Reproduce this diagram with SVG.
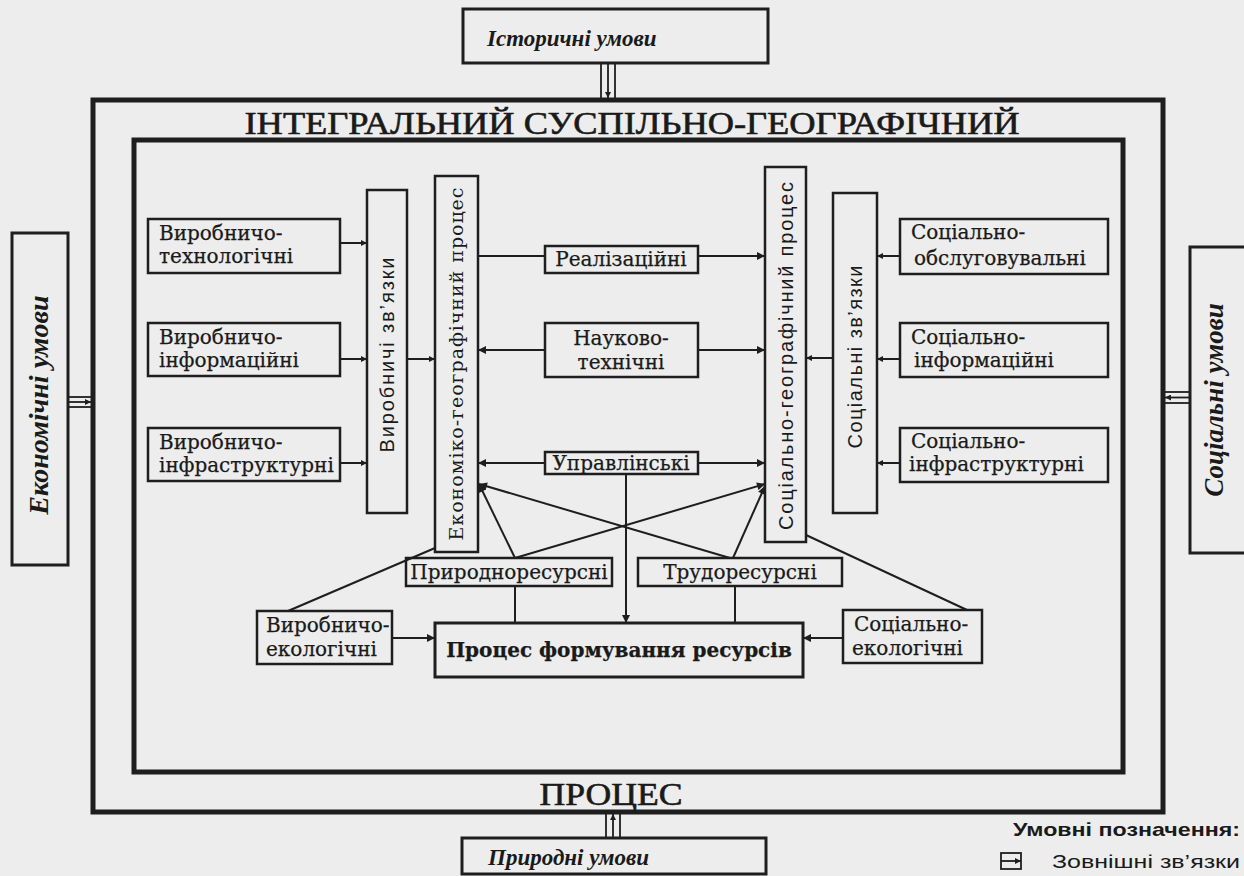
<svg xmlns="http://www.w3.org/2000/svg" width="1244" height="876" viewBox="0 0 1244 876">
<defs>
<style>
.bg{fill:#ededed}
.box{fill:none;stroke:#1e1e1e;stroke-width:2.5}
.tbox{fill:none;stroke:#1e1e1e;stroke-width:3}
.frame{fill:none;stroke:#1e1e1e;stroke-width:5}
.ln{fill:none;stroke:#1e1e1e;stroke-width:2}
.dl{fill:none;stroke:#1e1e1e;stroke-width:1.8}
.t{font-family:"DejaVu Serif","Liberation Serif",serif;font-size:20px;fill:#1a1a1a;stroke:#1a1a1a;stroke-width:0.25}
.tc{text-anchor:middle}
.tb{font-weight:bold}
.vs{font-family:"Liberation Sans","DejaVu Sans",sans-serif;font-size:20px;fill:#1a1a1a;text-anchor:middle}
.vse{font-family:"DejaVu Serif","Liberation Serif",serif;font-size:19px;fill:#1a1a1a;text-anchor:middle}
.cond{font-family:"Liberation Serif",serif;fill:#1a1a1a;stroke:#1a1a1a;stroke-width:0.6;text-anchor:middle}
.ext{font-family:"Liberation Serif",serif;font-weight:bold;font-style:italic;fill:#1a1a1a}
.leg{font-family:"Liberation Sans",sans-serif;fill:#1a1a1a}
</style>
<marker id="ah" viewBox="0 0 10 10" refX="10" refY="5" markerWidth="11" markerHeight="8" markerUnits="userSpaceOnUse" orient="auto"><path d="M0,0 L10,5 L0,10 z" fill="#1e1e1e"/></marker>
<marker id="as" viewBox="0 0 10 10" refX="10" refY="5" markerWidth="8" markerHeight="6" markerUnits="userSpaceOnUse" orient="auto"><path d="M0,0 L10,5 L0,10 z" fill="#1e1e1e"/></marker>
</defs>
<rect class="bg" x="0" y="0" width="1244" height="876"/>

<g id="frames">
<rect class="frame" x="93" y="100" width="1070" height="712"/>
<rect class="frame" x="134" y="140" width="989" height="632"/>
<text class="cond" x="632" y="134" font-size="31" textLength="775" lengthAdjust="spacingAndGlyphs">ІНТЕГРАЛЬНИЙ СУСПІЛЬНО-ГЕОГРАФІЧНИЙ</text>
<text class="cond" x="611" y="805" font-size="31" textLength="143" lengthAdjust="spacingAndGlyphs">ПРОЦЕС</text>
</g>

<g id="hist">
<rect class="tbox" x="463" y="9" width="305" height="54"/>
<text class="ext" x="487" y="46" font-size="23">Історичні умови</text>
</g>
<g id="econ">
<rect class="tbox" x="12" y="233" width="56" height="332"/>
<text class="ext" transform="translate(48,405) rotate(-90)" text-anchor="middle" font-size="28">Економічні умови</text>
</g>
<g id="soc">
<rect class="tbox" x="1190" y="247" width="70" height="306"/>
<text class="ext" transform="translate(1223,400) rotate(-90)" text-anchor="middle" font-size="27">Соціальні умови</text>
</g>
<g id="nat">
<rect class="tbox" x="462" y="838" width="304" height="36"/>
<text class="ext" x="488" y="865" font-size="23">Природні умови</text>
</g>

<g id="legend">
<text class="leg" x="1013" y="836" font-size="19" font-weight="bold" textLength="227" lengthAdjust="spacingAndGlyphs">Умовні позначення:</text>
<rect class="dl" x="1001" y="853" width="20" height="16"/>
<line class="dl" x1="1001" y1="861" x2="1021" y2="861" marker-end="url(#as)"/>
<text class="leg" x="1052" y="868" font-size="19" textLength="188" lengthAdjust="spacingAndGlyphs">Зовнішні зв’язки</text>
</g>

<g id="vt"><rect class="box" x="148" y="219" width="192" height="54"/><text class="t" x="159" y="240">Виробничо-</text><text class="t" x="159" y="263">технологічні</text></g>
<g id="vi"><rect class="box" x="148" y="323" width="192" height="53"/><text class="t" x="159" y="344">Виробничо-</text><text class="t" x="159" y="367">інформаційні</text></g>
<g id="vinf"><rect class="box" x="148" y="428" width="192" height="53"/><text class="t" x="159" y="449">Виробничо-</text><text class="t" x="159" y="472">інфраструктурні</text></g>
<g id="vz"><rect class="box" x="367" y="190" width="40" height="323"/><text class="vs" transform="translate(394,355) rotate(-90)" textLength="195">Виробничі зв’язки</text></g>
<g id="egp"><rect class="box" x="435" y="176" width="43" height="376"/><text class="vse" transform="translate(463,364) rotate(-90)" textLength="353">Економіко-географічний процес</text></g>
<g id="sgp"><rect class="box" x="765" y="167" width="41" height="375"/><text class="vs" transform="translate(793,356) rotate(-90)" textLength="348">Соціально-географічний процес</text></g>
<g id="sz"><rect class="box" x="833" y="193" width="44" height="320"/><text class="vs" transform="translate(862,357) rotate(-90)" textLength="183">Соціальні зв’язки</text></g>
<g id="so"><rect class="box" x="900" y="219" width="208" height="55"/><text class="t" x="911" y="239">Соціально-</text><text class="t" x="914" y="265">обслуговувальні</text></g>
<g id="si"><rect class="box" x="900" y="323" width="208" height="54"/><text class="t" x="911" y="344">Соціально-</text><text class="t" x="914" y="367">інформаційні</text></g>
<g id="sinf"><rect class="box" x="900" y="428" width="208" height="54"/><text class="t" x="911" y="448">Соціально-</text><text class="t" x="909" y="471">інфраструктурні</text></g>
<g id="real"><rect class="box" x="545" y="246" width="153" height="27"/><text class="t tc" x="621" y="266">Реалізаційні</text></g>
<g id="nauk"><rect class="box" x="545" y="323" width="153" height="54"/><text class="t tc" x="621" y="345">Науково-</text><text class="t tc" x="621" y="369">технічні</text></g>
<g id="upr"><rect class="box" x="545" y="452" width="153" height="22"/><text class="t tc" x="621" y="470">Управлінські</text></g>
<g id="pryr"><rect class="box" x="406" y="558" width="206" height="28"/><text class="t tc" x="509" y="579">Природноресурсні</text></g>
<g id="trud"><rect class="box" x="638" y="558" width="204" height="28"/><text class="t tc" x="740" y="579">Трудоресурсні</text></g>
<g id="pfr"><rect class="tbox" x="435" y="623" width="368" height="54"/><text class="t tc tb" x="619" y="657" font-size="19.5">Процес формування ресурсів</text></g>
<g id="ve"><rect class="box" x="257" y="611" width="135" height="53"/><text class="t" x="266" y="632">Виробничо-</text><text class="t" x="266" y="656">екологічні</text></g>
<g id="se"><rect class="box" x="843" y="610" width="139" height="53"/><text class="t" x="854" y="631">Соціально-</text><text class="t" x="852" y="655">екологічні</text></g>

<g id="connectors">
<line class="dl" x1="601" y1="63" x2="601" y2="98"/><line class="dl" x1="615" y1="63" x2="615" y2="98"/><line class="dl" x1="608" y1="63" x2="608" y2="98" marker-end="url(#as)"/>
<line class="dl" x1="68" y1="397" x2="91" y2="397"/><line class="dl" x1="68" y1="407" x2="91" y2="407"/><line class="dl" x1="68" y1="402" x2="91" y2="402" marker-end="url(#as)"/>
<line class="dl" x1="1190" y1="392" x2="1165" y2="392"/><line class="dl" x1="1190" y1="403" x2="1165" y2="403"/><line class="dl" x1="1190" y1="397.5" x2="1165" y2="397.5" marker-end="url(#as)"/>
<line class="dl" x1="606" y1="838" x2="606" y2="814"/><line class="dl" x1="620" y1="838" x2="620" y2="814"/><line class="dl" x1="613" y1="838" x2="613" y2="814" marker-end="url(#as)"/>

<line class="ln" x1="340" y1="243" x2="367" y2="243" marker-end="url(#as)"/>
<line class="ln" x1="340" y1="359" x2="367" y2="359" marker-end="url(#as)"/>
<line class="ln" x1="340" y1="463" x2="367" y2="463" marker-end="url(#as)"/>
<line class="ln" x1="407" y1="359" x2="435" y2="359" marker-end="url(#as)"/>
<line class="ln" x1="900" y1="256" x2="877" y2="256" marker-end="url(#as)"/>
<line class="ln" x1="900" y1="359" x2="877" y2="359" marker-end="url(#as)"/>
<line class="ln" x1="900" y1="463" x2="877" y2="463" marker-end="url(#as)"/>
<line class="ln" x1="833" y1="358" x2="806" y2="358" marker-end="url(#as)"/>

<line class="ln" x1="478" y1="256" x2="545" y2="256"/>
<line class="ln" x1="698" y1="256" x2="765" y2="256" marker-end="url(#ah)"/>
<line class="ln" x1="545" y1="350" x2="478" y2="350" marker-end="url(#ah)"/>
<line class="ln" x1="698" y1="350" x2="765" y2="350" marker-end="url(#ah)"/>
<line class="ln" x1="545" y1="463" x2="478" y2="463" marker-end="url(#ah)"/>
<line class="ln" x1="698" y1="463" x2="765" y2="463" marker-end="url(#ah)"/>
<line class="ln" x1="626" y1="474" x2="626" y2="623" marker-end="url(#ah)"/>

<line class="ln" x1="515" y1="558" x2="479" y2="484" marker-end="url(#ah)"/>
<line class="ln" x1="515" y1="558" x2="765" y2="484" marker-end="url(#ah)"/>
<line class="ln" x1="733" y1="558" x2="765" y2="486" marker-end="url(#ah)"/>
<line class="ln" x1="730" y1="558" x2="479" y2="484" marker-end="url(#ah)"/>
<line class="ln" x1="515" y1="586" x2="515" y2="623"/>
<line class="ln" x1="735" y1="586" x2="735" y2="623"/>
<line class="ln" x1="392" y1="638" x2="435" y2="638" marker-end="url(#ah)"/>
<line class="ln" x1="843" y1="638" x2="803" y2="638" marker-end="url(#ah)"/>
<line class="ln" x1="435" y1="548" x2="288" y2="611"/>
<line class="ln" x1="806" y1="535" x2="967" y2="610"/>
</g>
</svg>
